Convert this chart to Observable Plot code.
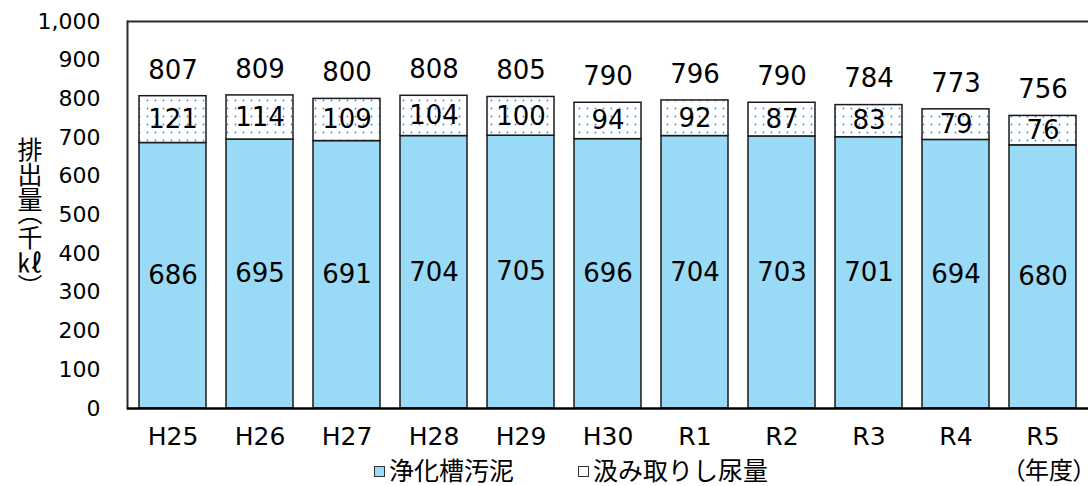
<!DOCTYPE html>
<html lang="ja">
<head>
<meta charset="utf-8">
<script src="https://cdn.jsdelivr.net/npm/d3@7"></script>
<script src="https://cdn.jsdelivr.net/npm/@observablehq/plot@0.6"></script>
<style>
  html, body { margin: 0; padding: 0; background: #fff; overflow: hidden; }
  #wrap { position: relative; width: 1088px; height: 486px; }
  #chart svg { display: block; }
  .ylabel {
    position: absolute; left: 12px; top: 137px;
    writing-mode: vertical-rl; line-height: 1;
    font: 25px "Noto Sans CJK JP", sans-serif; color: #000;
    font-feature-settings: "vpal";
  }
  .legend {
    position: absolute; left: 0; top: 452px; width: 1088px; height: 34px;
    font: 25px "Noto Sans CJK JP", sans-serif; color: #000;
  }
  .legend .item { position: absolute; top: 0; display: flex; align-items: center; height: 34px; white-space: nowrap; }
  .legend .sw { width: 9px; height: 9px; border: 1px solid #333; margin-right: 4px; margin-top: 4px; }
  .legend .unit {
    position: absolute; top: 0; height: 34px; line-height: 34px; font-size: 24px;
    font-feature-settings: "palt";
  }
</style>
</head>
<body>
<div id="wrap">
  <div id="chart"></div>
</div>
<script>
// 年度
const years = ["H25", "H26", "H27", "H28", "H29", "H30", "R1", "R2", "R3", "R4", "R5"];
// 浄化槽汚泥（千kℓ）
const sludge = [686, 695, 691, 704, 705, 696, 704, 703, 701, 694, 680];
// 汲み取りし尿量（千kℓ）
const nightSoil = [121, 114, 109, 104, 100, 94, 92, 87, 83, 79, 76];
// 合計（千kℓ）
const totals = [807, 809, 800, 808, 805, 790, 796, 790, 784, 773, 756];
// 縦軸の目盛
const yTicks = [0, 100, 200, 300, 400, 500, 600, 700, 800, 900, 1000];
// 凡例
const seriesNames = ["浄化槽汚泥", "汲み取りし尿量"];
const seriesColors = ["#99daf6", "#ffffff"];

const rows = years.map((year, i) => ({
  year,
  sludge: sludge[i],
  nightSoil: nightSoil[i],
  total: totals[i]
}));

const numFont = "'DejaVu Sans', 'Noto Sans CJK JP', sans-serif";
const edge = "#1a1a1a";

const chart = Plot.plot({
  width: 1088,
  height: 456,
  marginLeft: 127,
  marginRight: 0,
  marginTop: 21,
  marginBottom: 48,
  style: { fontFamily: numFont, background: "#fff", color: "#000", overflow: "hidden" },
  x: { domain: years, paddingInner: 0.23, paddingOuter: 0.115, label: null },
  y: { domain: [0, 1000], label: null },
  marks: [
    // 浄化槽汚泥
    Plot.barY(rows, { x: "year", y1: 0, y2: "sludge", fill: seriesColors[0], stroke: edge, strokeWidth: 1.5 }),
    // 汲み取りし尿量（点模様）
    Plot.barY(rows, { x: "year", y1: "sludge", y2: "total", fill: "url(#dots)", stroke: edge, strokeWidth: 1.5 }),
    // 枠線
    Plot.ruleY([1000], { stroke: "#2a2a2a", strokeWidth: 2 }),
    Plot.frame({ anchor: "left", stroke: "#2a2a2a", strokeWidth: 2 }),
    Plot.ruleY([0], { stroke: "#000", strokeWidth: 2.5 }),
    // 数値ラベル
    Plot.text(rows, { x: "year", y: (d) => d.sludge / 2, text: (d) => String(d.sludge), fontSize: 26, fill: "#000" }),
    Plot.text(rows, { x: "year", y: (d) => d.sludge + d.nightSoil / 2, text: (d) => String(d.nightSoil), fontSize: 26, fill: "#000" }),
    Plot.text(rows, { x: "year", y: "total", text: (d) => String(d.total), dy: -26, fontSize: 26, fill: "#000" }),
    // 軸
    Plot.axisY({ ticks: yTicks, tickSize: 0, tickPadding: 27, tickFormat: d3.format(","), fontSize: 22, label: null }),
    Plot.axisX({ tickSize: 0, tickPadding: 19, fontSize: 25, label: null })
  ]
});

// 点模様のパターン
const svg = d3.select(chart);
const pat = svg.insert("defs", ":first-child")
  .append("pattern")
  .attr("id", "dots")
  .attr("patternUnits", "userSpaceOnUse")
  .attr("width", 8)
  .attr("height", 8);
pat.append("rect").attr("width", 8).attr("height", 8).attr("fill", "#fff");
pat.append("circle").attr("cx", 3.5).attr("cy", 4.5).attr("r", 0.9).attr("fill", "#3f8ee0");

document.getElementById("chart").appendChild(chart);

const wrap = d3.select("#wrap");
// 縦軸タイトル
wrap.append("div").attr("class", "ylabel").text("排出量（千㎘）");

// 凡例と単位
const legend = wrap.append("div").attr("class", "legend");
const legendX = [374, 578];
seriesNames.forEach((name, i) => {
  const item = legend.append("div").attr("class", "item").style("left", legendX[i] + "px");
  item.append("span").attr("class", "sw").style("background", seriesColors[i]);
  item.append("span").text(name);
});
legend.append("div").attr("class", "unit").style("right", "3px").text("（年度）");
</script>
</body>
</html>
